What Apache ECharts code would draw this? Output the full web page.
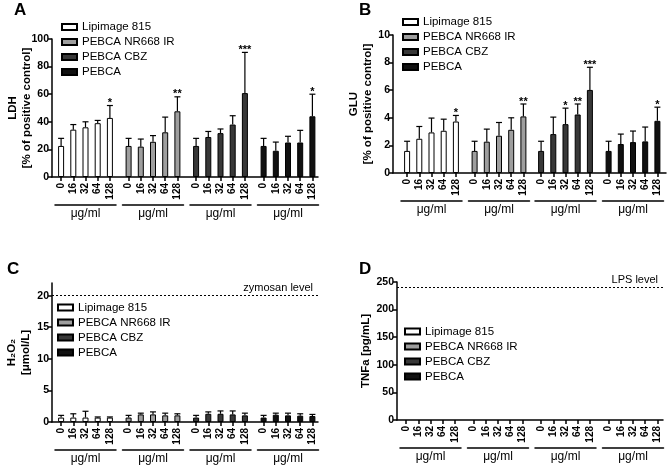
<!DOCTYPE html>
<html>
<head>
<meta charset="utf-8">
<script src="https://cdn.jsdelivr.net/npm/echarts@6/dist/echarts.min.js"></script>
<style>
  html, body { margin: 0; padding: 0; background: #fff; }
  #chart { width: 669px; height: 466px; }
</style>
</head>
<body>
<div id="chart"></div>
<script>
const doses = ['0', '16', '32', '64', '128'];
const groupNames = ['Lipimage 815', 'PEBCA NR668 IR', 'PEBCA CBZ', 'PEBCA'];
const groupColors = ['#ffffff', '#9e9e9e', '#383838', '#111111'];

// A - LDH [% of positive control]
const ldhMean = [
  [22.5, 34.3, 36, 39, 42.8],
  [22.5, 22, 25.5, 32.4, 47.6],
  [22.5, 29, 31.8, 38, 60.8],
  [22.5, 19, 25, 25, 44]
];
const ldhSd = [
  [5.5, 3.7, 4, 2, 9],
  [5.5, 5.5, 4.5, 11, 10.5],
  [5.5, 4, 3, 6.4, 29.5],
  [5.5, 6.3, 4.5, 8.8, 16]
];
const ldhStars = [
  ['', '', '', '', '*'],
  ['', '', '', '', '**'],
  ['', '', '', '', '***'],
  ['', '', '', '', '*']
];
const ldhTicks = [0, 20, 40, 60, 80, 100];

// B - GLU [% of positive control]
const gluMean = [
  [1.6, 2.48, 2.94, 3.06, 3.73],
  [1.6, 2.27, 2.7, 3.13, 4.1],
  [1.6, 2.82, 3.54, 4.24, 6.02],
  [1.6, 2.1, 2.24, 2.29, 3.78]
];
const gluSd = [
  [0.7, 0.89, 1.04, 0.84, 0.44],
  [0.7, 0.91, 0.96, 0.87, 0.9],
  [0.7, 1.23, 1.16, 0.76, 1.64],
  [0.7, 0.72, 0.8, 1.04, 0.99]
];
const gluStars = [
  ['', '', '', '', '*'],
  ['', '', '', '', '**'],
  ['', '', '*', '**', '***'],
  ['', '', '', '', '*']
];
const gluTicks = [0, 2, 4, 6, 8, 10];

// C - H2O2 [umol/L]
const h2o2Mean = [
  [0.7, 0.7, 0.7, 0.7, 0.7],
  [0.7, 1.2, 1.2, 1.05, 1.05],
  [0.7, 1.3, 1.3, 1.2, 1.05],
  [0.7, 1.15, 1.05, 1.0, 0.95]
];
const h2o2Sd = [
  [0.35, 0.6, 1.0, 0.1, 0.1],
  [0.35, 0.2, 0.4, 0.35, 0.25],
  [0.35, 0.3, 0.45, 0.55, 0.35],
  [0.35, 0.25, 0.35, 0.3, 0.25]
];
const h2o2Ticks = [0, 5, 10, 15, 20];
const zymosanLevel = 20;

// D - TNFa [pg/mL], no bars visible
const tnfMean = [[], [], [], []];
const tnfSd = [[], [], [], []];
const tnfTicks = [0, 50, 100, 150, 200, 250];
const lpsLevel = 240;

const FONT = 'Liberation Sans, Arial, Helvetica, sans-serif';

const panels = [
  {
    letter: 'A', mean: ldhMean, sd: ldhSd, stars: ldhStars, ticks: ldhTicks, yMax: 100,
    yName: 'LDH\n[% of positive control]', nameGap: 18,
    left: 52, top: 39, width: 266, height: 138,
    groupLefts: [55, 122.5, 190, 257.5],
    titlePos: [14, 2], legendPos: [61, 21]
  },
  {
    letter: 'B', mean: gluMean, sd: gluSd, stars: gluStars, ticks: gluTicks, yMax: 10,
    yName: 'GLU\n[% of positive control]', nameGap: 18,
    left: 393, top: 35, width: 273, height: 138,
    groupLefts: [401, 468.5, 535, 602.5],
    titlePos: [359, 2], legendPos: [402, 16]
  },
  {
    letter: 'C', mean: h2o2Mean, sd: h2o2Sd, stars: null, ticks: h2o2Ticks, yMax: 22,
    yName: 'H₂O₂\n[μmol/L]', nameGap: 19,
    left: 52, top: 283, width: 266, height: 139,
    groupLefts: [55, 122.5, 190, 257.5],
    titlePos: [7, 261], legendPos: [57, 301.5],
    refLine: zymosanLevel, refLabel: 'zymosan level'
  },
  {
    letter: 'D', mean: tnfMean, sd: tnfSd, stars: null, ticks: tnfTicks, yMax: 250,
    yName: 'TNFa [pg/mL]', nameGap: 24,
    left: 397, top: 282, width: 266, height: 138,
    groupLefts: [400, 467.5, 535, 602.5],
    titlePos: [359, 261], legendPos: [404, 325.5],
    refLine: lpsLevel, refLabel: 'LPS level'
  }
];

const option = {
  animation: false,
  backgroundColor: '#fff',
  textStyle: { fontFamily: FONT, color: '#000' },
  title: [], legend: [], grid: [], xAxis: [], yAxis: [], series: []
};

panels.forEach(function (p) {
  option.title.push({
    text: p.letter, left: p.titlePos[0], top: p.titlePos[1], padding: 0,
    textStyle: { fontFamily: FONT, fontWeight: 'bold', fontSize: 17, color: '#000' }
  });
  option.legend.push({
    data: groupNames, orient: 'vertical', left: p.legendPos[0], top: p.legendPos[1],
    icon: 'rect', itemWidth: 15, itemHeight: 6, itemGap: 3, padding: 0,
    selectedMode: false,
    textStyle: { fontFamily: FONT, fontSize: 11.5, color: '#000' }
  });

  // frame grid: y axis + continuous baseline
  const fg = option.grid.length;
  option.grid.push({ left: p.left, top: p.top, width: p.width, height: p.height });
  const fx = option.xAxis.length;
  option.xAxis.push({
    type: 'value', gridIndex: fg, min: 0, max: 1,
    axisLine: { show: true, lineStyle: { color: '#000', width: 1.5 } },
    axisTick: { show: false }, axisLabel: { show: false }, splitLine: { show: false }
  });
  const fy = option.yAxis.length;
  option.yAxis.push({
    type: 'value', gridIndex: fg, min: 0, max: p.yMax,
    name: p.yName, nameLocation: 'middle', nameGap: p.nameGap, nameMoveOverlap: false,
    nameTextStyle: { fontFamily: FONT, fontWeight: 'bold', fontSize: 11.5, lineHeight: 14, color: '#000' },
    axisLine: { show: true, lineStyle: { color: '#000', width: 1.5 } },
    axisTick: { show: true, length: 4, customValues: p.ticks, lineStyle: { color: '#000', width: 1.5 } },
    axisLabel: { customValues: p.ticks, fontFamily: FONT, fontWeight: 'bold', fontSize: 10.5, color: '#000', margin: 3 },
    splitLine: { show: false }
  });
  const frameSeries = {
    type: 'line', xAxisIndex: fx, yAxisIndex: fy, data: [], silent: true
  };
  if (p.refLine != null) {
    frameSeries.markLine = {
      silent: true, symbol: 'none',
      lineStyle: { color: '#000', type: [2, 2], width: 1 },
      label: { show: true, position: 'insideEndTop', formatter: p.refLabel, fontFamily: FONT, fontSize: 11, color: '#000', distance: [5, 2] },
      data: [{ yAxis: p.refLine }]
    };
  }
  option.series.push(frameSeries);

  // one grid per treatment group
  groupNames.forEach(function (name, g) {
    const gi = option.grid.length;
    option.grid.push({ left: p.groupLefts[g], top: p.top, width: 61, height: p.height });
    const xi = option.xAxis.length;
    option.xAxis.push({
      type: 'category', gridIndex: gi, data: doses,
      axisLine: { show: false },
      axisTick: { show: true, alignWithLabel: true, interval: 0, length: 4, lineStyle: { color: '#000', width: 1.5 } },
      axisLabel: { interval: 0, rotate: 90, margin: 6, fontFamily: FONT, fontWeight: 'bold', fontSize: 10, color: '#000' }
    });
    option.xAxis.push({
      type: 'category', gridIndex: gi, data: doses, position: 'bottom', offset: 28,
      axisLine: { show: true, lineStyle: { color: '#000', width: 1.5 } },
      axisTick: { show: false }, axisLabel: { show: false },
      name: 'μg/ml', nameLocation: 'middle', nameGap: 3,
      nameTextStyle: { fontFamily: FONT, fontSize: 12, color: '#000', verticalAlign: 'top' }
    });
    const yi = option.yAxis.length;
    option.yAxis.push({ type: 'value', gridIndex: gi, min: 0, max: p.yMax, show: false });

    const means = p.mean[g];
    const sds = p.sd[g];
    const stars = p.stars ? p.stars[g] : null;
    option.series.push({
      type: 'bar', name: name, xAxisIndex: xi, yAxisIndex: yi,
      data: means, barWidth: 6,
      itemStyle: { color: groupColors[g], borderColor: '#000', borderWidth: 1 }
    });
    option.series.push({
      type: 'custom', xAxisIndex: xi, yAxisIndex: yi, clip: false, z: 5, silent: true,
      data: means.map(function (m, i) { return [i, m, sds[i]]; }),
      renderItem: function (params, api) {
        const i = api.value(0), m = api.value(1), s = api.value(2);
        const base = api.coord([i, m]);
        const tip = api.coord([i, m + s]);
        const children = [
          { type: 'line', shape: { x1: base[0], y1: base[1], x2: tip[0], y2: tip[1] }, style: { stroke: '#000', lineWidth: 1.2 } },
          { type: 'line', shape: { x1: tip[0] - 3, y1: tip[1], x2: tip[0] + 3, y2: tip[1] }, style: { stroke: '#000', lineWidth: 1.2 } }
        ];
        const star = stars ? stars[params.dataIndex] : '';
        if (star) {
          children.push({
            type: 'text',
            style: { text: star, x: tip[0], y: tip[1] + 3, align: 'center', verticalAlign: 'bottom', font: 'bold 11px ' + FONT, fill: '#000' }
          });
        }
        return { type: 'group', children: children };
      }
    });
  });
});

const chart = echarts.init(document.getElementById('chart'), null, { renderer: 'canvas' });
chart.setOption(option);
</script>
</body>
</html>
